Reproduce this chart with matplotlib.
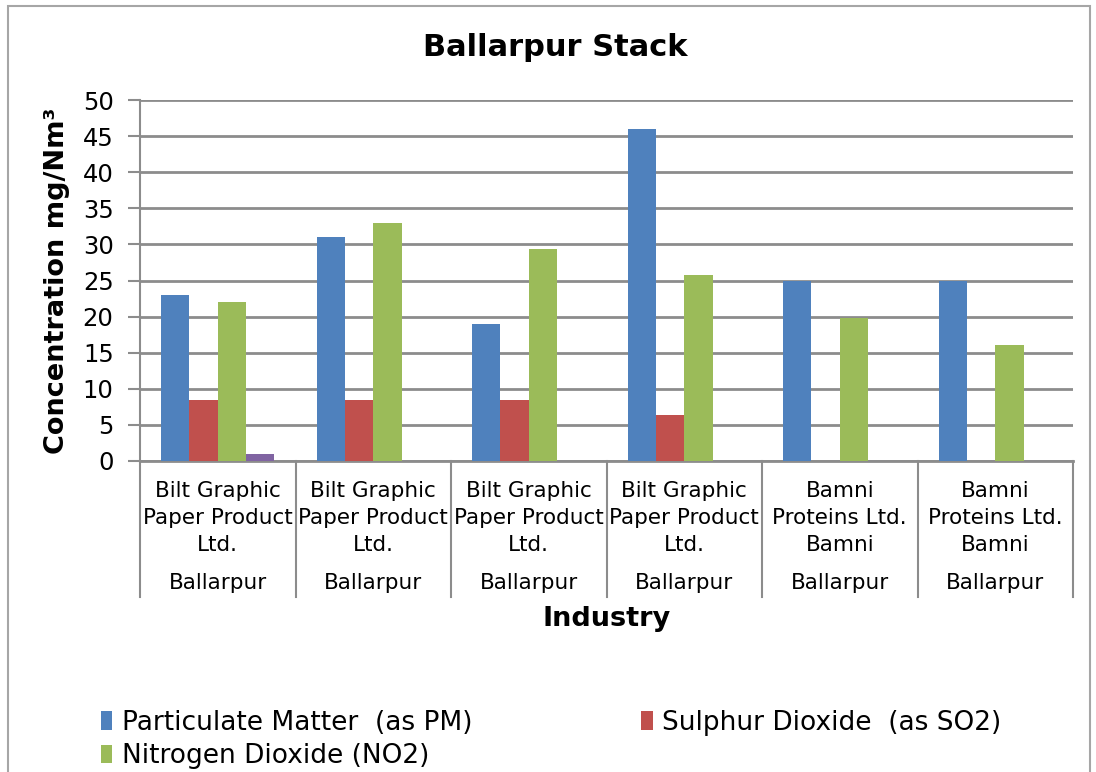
import matplotlib.pyplot as plt
import numpy as np
from matplotlib.patches import Rectangle

# Data
industries = ["Bilt Graphic\nPaper Product\nLtd.", "Bilt Graphic\nPaper Product\nLtd.",
              "Bilt Graphic\nPaper Product\nLtd.", "Bilt Graphic\nPaper Product\nLtd.",
              "Bamni\nProteins Ltd.\nBamni", "Bamni\nProteins Ltd.\nBamni"]
locations = ["Ballarpur"] * 6
pm = [23, 31, 19, 46, 25, 25]
so2 = [8.4, 8.4, 8.4, 6.4, 0, 0]
no2 = [22, 33, 29.4, 25.8, 19.8, 16]
other = [1, 0, 0, 0, 0, 0]

series = [
    ("Particulate Matter  (as PM)", pm, "#4f81bd"),
    ("Sulphur Dioxide  (as SO2)", so2, "#c0504d"),
    ("Nitrogen Dioxide (NO2)", no2, "#9bbb59"),
    ("_other", other, "#8064a2"),
]

plt.rcParams['font.family'] = 'DejaVu Sans'

fig = plt.figure(figsize=(10.96, 7.72), dpi=100)
ax = fig.add_axes([140 / 1096, 1 - 461 / 772, 933 / 1096, 361 / 772])

# outer chart border
fig.patches.append(Rectangle((8 / 1096, -0.05), 1082 / 1096, 1.05 - 6 / 772,
                             transform=fig.transFigure, fill=False,
                             edgecolor='#a6a6a6', linewidth=1.5))

x = np.arange(len(industries))
width = 1 / 5.5
handles = []
for i, (name, vals, col) in enumerate(series):
    b = ax.bar(x + (i - 1.5) * width, vals, width, color=col, label=name, zorder=3)
    handles.append(b)

ax.set_xlim(-0.5, len(industries) - 0.5)
ax.set_ylim(0, 50)
ax.set_yticks(range(0, 51, 5))
ax.tick_params(axis='y', labelsize=17.5, length=9, width=1.5, color='#8c8c8c', pad=10)
ax.set_xticks([])
ax.yaxis.grid(True, color='#8c8c8c', linewidth=2)
ax.set_axisbelow(True)
for s in ['top', 'right']:
    ax.spines[s].set_visible(False)
ax.spines['left'].set_color('#8c8c8c')
ax.spines['left'].set_linewidth(1.5)
ax.spines['bottom'].set_color('#8c8c8c')
ax.spines['bottom'].set_linewidth(2)

# multi-level category axis
trans = ax.get_xaxis_transform()
for b in np.arange(-0.5, len(industries), 1.0):
    ax.plot([b, b], [0, -0.376], transform=trans, color='#8c8c8c',
            linewidth=1.5, clip_on=False)
for xi, (ind, loc) in enumerate(zip(industries, locations)):
    ax.text(xi, -0.055, ind, transform=trans, ha='center', va='top',
            fontsize=15.5, linespacing=1.45)
    ax.text(xi, -0.338, loc, transform=trans, ha='center', va='center',
            fontsize=15.5)

ax.set_ylabel("Concentration mg/Nm³", fontsize=19.5, fontweight='bold', labelpad=9)
ax.text(0.5, -0.438, "Industry", transform=ax.transAxes, ha='center', va='center',
        fontsize=19.5, fontweight='bold')
fig.text(555 / 1096, 1 - 48 / 772, "Ballarpur Stack", ha='center', va='center',
         fontsize=22, fontweight='bold')

# row-major legend: PM, SO2 / NO2
leg = fig.legend(handles=[handles[0], handles[2], handles[1]], loc='upper left',
                 bbox_to_anchor=(90 / 1096, 1 - 699 / 772), ncol=2, frameon=False,
                 fontsize=19, handlelength=0.45, handleheight=0.7,
                 handletextpad=0.35, columnspacing=6.4, labelspacing=0.3,
                 borderaxespad=0)

fig.savefig("out.png", dpi=100)
